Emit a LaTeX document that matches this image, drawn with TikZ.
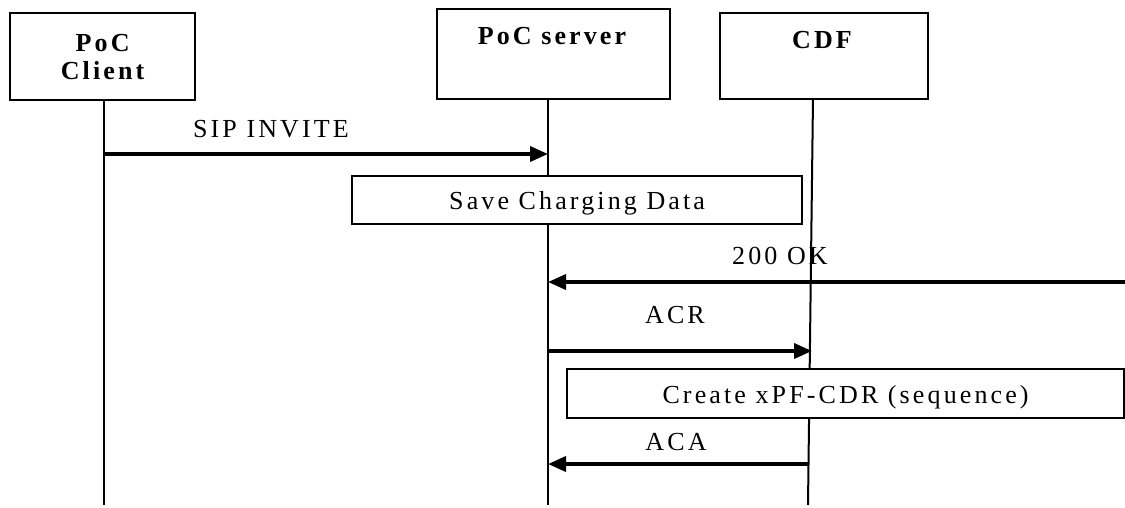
\documentclass[tikz,border=0pt]{standalone}
\usepackage{fontspec}
\setmainfont{Liberation Serif}[LetterSpace=12]
\usetikzlibrary{arrows.meta}

\begin{document}
\begin{tikzpicture}[x=1pt, y=-1pt, every node/.style={font=\fontsize{26}{28}\selectfont}]
    \tikzstyle{ent}=[draw, line width=2.2pt, inner sep=0pt, anchor=north west]
    \tikzstyle{ttl}=[font=\fontsize{26}{28}\selectfont\bfseries]
    \tikzstyle{note}=[draw, fill=white, line width=2.2pt, inner sep=0pt, anchor=north west, text height=19pt, text depth=0pt]
    \tikzstyle{life}=[line width=2pt]
    \tikzstyle{marrs}=[line width=3.6pt, -{Triangle[length=18pt, width=15pt]}]

    \useasboundingbox (0, 0) rectangle (1125, 507);

    % entities
    \node[ent, ttl, align=center, minimum width=185pt, minimum height=87pt] (cli) at (9, 12) {PoC\\Client};
    \node[ent, minimum width=233pt, minimum height=90pt] (srv) at (436, 8) {};
    \node[ent, minimum width=208pt, minimum height=86pt] (cdf) at (719, 12) {};
    \node[ttl, anchor=base] (srvname) at (552, 44) {PoC server};
    \node[ttl, anchor=base] (cdfname) at (822, 48) {CDF};

    % life lines
    \coordinate (cliTop) at (104, 99);   \coordinate (cliBot) at (104, 505);
    \coordinate (srvTop) at (548, 98);   \coordinate (srvBot) at (548, 505);
    \coordinate (cdfTop) at (813, 98);   \coordinate (cdfBot) at (808, 505);
    \foreach \a/\b in {cliTop/cliBot, srvTop/srvBot, cdfTop/cdfBot} {
        \draw[life] (\a) -- (\b);
    }

    % messages
    \coordinate (cliA) at (104, 154);  \coordinate (srvA) at (548, 154);
    \coordinate (ext)  at (1125, 282); \coordinate (srvB) at (548, 282);
    \coordinate (srvC) at (548, 351);  \coordinate (cdfC) at (812, 351);
    \coordinate (cdfD) at (809, 464);  \coordinate (srvD) at (548, 464);

    \draw[marrs] (cliA) -- (srvA);
    \draw[marrs] (ext) -- (srvB);
    \draw[marrs] (srvC) -- (cdfC);
    \draw[marrs] (cdfD) -- (srvD);

    \node[anchor=base] (sipinv) at (271, 137) {SIP INVITE};
    \node[anchor=base] (ok) at (780, 264) {200 OK};
    \node[anchor=base] (acr) at (675, 323) {ACR};
    \node[anchor=base] (aca) at (676, 450) {ACA};

    % actions
    \node[note, minimum width=450pt, minimum height=48pt] (save) at (351, 175) {Save Charging Data};
    \node[note, minimum width=557pt, minimum height=49pt] (cdr) at (566, 368) {Create xPF-CDR (sequence)};
\end{tikzpicture}
\end{document}
